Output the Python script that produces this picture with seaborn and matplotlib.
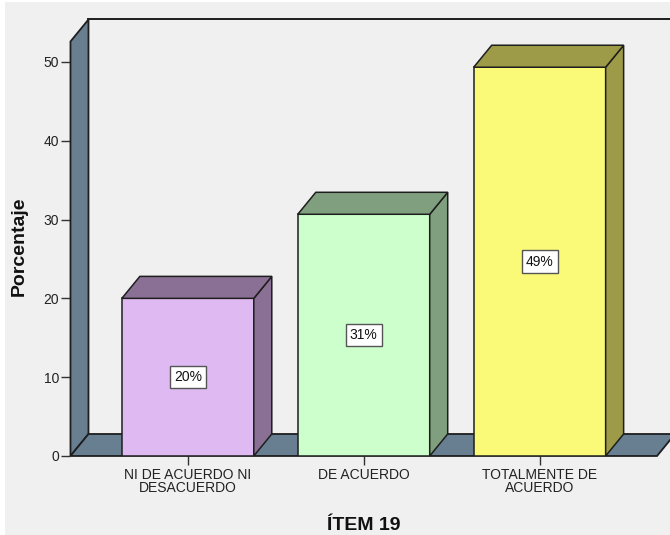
import matplotlib
matplotlib.use("Agg")
import matplotlib.pyplot as plt
from matplotlib.patches import Polygon, Rectangle
import pandas as pd
import seaborn as sns

# Response categories for item 19 and their share of answers (%)
categories = ["NI DE ACUERDO NI\nDESACUERDO", "DE ACUERDO", "TOTALMENTE DE\nACUERDO"]
percentages = [20.0, 30.67, 49.33]
front_colors = ["#dfb9f2", "#ccffcc", "#fafa78"]
shade_colors = ["#8a7094", "#7f9f7f", "#9d9a48"]
y_ticks = [0, 10, 20, 30, 40, 50]

plt.rcParams["font.family"] = ["Liberation Sans", "DejaVu Sans"]

BG = "#f0f0f0"
WALL = "#687f92"
EDGE = "#1e1e1e"

fig = plt.figure(figsize=(6.7, 5.35), dpi=100, facecolor=BG)
# thin white strips along the top and left border
fig.patches.append(Rectangle((0, 0), 5 / 670, 1, transform=fig.transFigure,
                             facecolor="white", edgecolor="none", zorder=0))
fig.patches.append(Rectangle((0, 1 - 2 / 535), 1, 2 / 535, transform=fig.transFigure,
                             facecolor="white", edgecolor="none", zorder=0))

ax = fig.add_axes([0.1052, 0.1477, 0.8754, 0.7748])
ax.set_facecolor("none")

df = pd.DataFrame({"categoria": categories, "porcentaje": percentages})
sns.barplot(data=df, x="categoria", y="porcentaje", hue="categoria",
            palette=front_colors, width=0.75, edgecolor=EDGE, linewidth=1.1,
            saturation=1, legend=False, ax=ax, zorder=4)

x0, x1 = -0.667, 2.667
ytop = 52.6
dx, dy = 0.1023, 2.79   # depth offset of the pseudo-3D look
ax.set_xlim(x0, x1)
ax.set_ylim(0, ytop)

# back wall top edge
ax.plot([x0 + dx, x1 + dx + 0.2], [ytop + dy, ytop + dy], color=EDGE, lw=1.4,
        clip_on=False, zorder=1)
# left wall slab
ax.add_patch(Polygon([(x0, 0), (x0, ytop), (x0 + dx, ytop + dy), (x0 + dx, dy)],
                     closed=True, facecolor=WALL, edgecolor=EDGE, lw=1.3,
                     clip_on=False, zorder=2))
# floor slab
ax.add_patch(Polygon([(x0, 0), (x1, 0), (x1 + dx, dy), (x0 + dx, dy)],
                     closed=True, facecolor=WALL, edgecolor=EDGE, lw=1.3,
                     clip_on=False, zorder=2))

# side and top faces of each bar
half = 0.75 / 2
for i, (v, sc) in enumerate(zip(percentages, shade_colors)):
    l, r = i - half, i + half
    ax.add_patch(Polygon([(r, 0), (r + dx, dy), (r + dx, v + dy), (r, v)],
                         closed=True, facecolor=sc, edgecolor=EDGE, lw=1.1,
                         clip_on=False, zorder=4))
    ax.add_patch(Polygon([(l, v), (r, v), (r + dx, v + dy), (l + dx, v + dy)],
                         closed=True, facecolor=sc, edgecolor=EDGE, lw=1.1,
                         clip_on=False, zorder=4))
    ax.text(i, v / 2, f"{v:.0f}%", ha="center", va="center", fontsize=10,
            color="#111111", zorder=6,
            bbox=dict(boxstyle="square,pad=0.3", facecolor="white",
                      edgecolor="#555555", lw=1.0))

for s in ax.spines.values():
    s.set_visible(False)

ax.set_yticks(y_ticks)
ax.set_xticks(range(len(categories)))
ax.set_xticklabels(categories, fontsize=10, color="#222222", linespacing=0.82)
ax.tick_params(axis="y", left=True, direction="out", length=6.5, width=1.0,
               color="#333333", labelsize=10, labelcolor="#222222", pad=1.5)
ax.tick_params(axis="x", bottom=True, direction="out", length=6.5, width=1.0,
               color="#333333", pad=2.5)
ax.set_xlabel("")
ax.set_ylabel("")

fig.text(19 / 670, 1 - 246 / 535, "Porcentaje", rotation=90, ha="center",
         va="center", fontsize=14, fontweight="bold", color="#111111")
fig.text(364 / 670, 1 - 530 / 535, "ÍTEM 19", ha="center", va="baseline",
         fontsize=14, fontweight="bold", color="#111111")

fig.savefig("out.png", dpi=100, facecolor=BG)
